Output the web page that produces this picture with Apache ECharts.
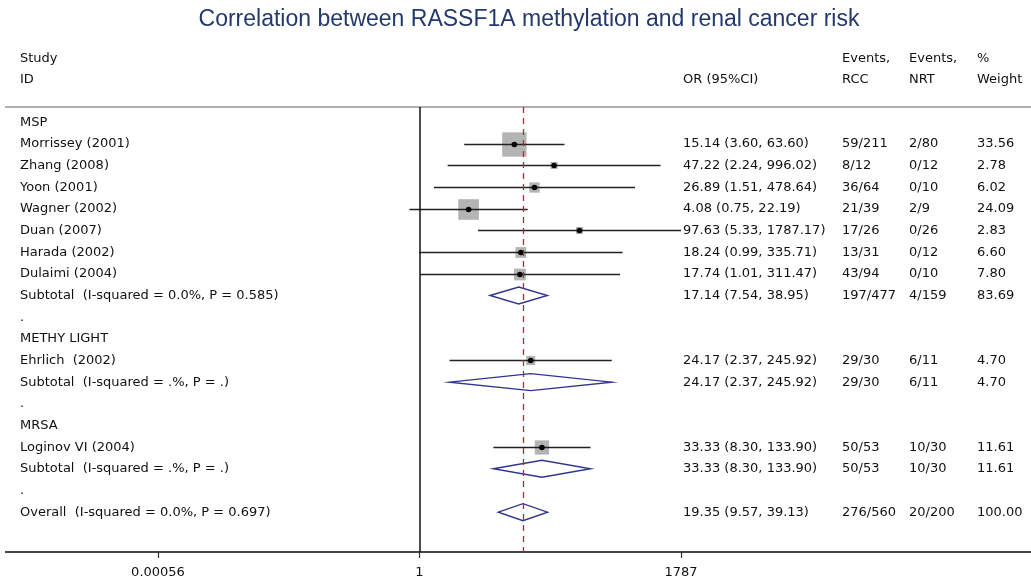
<!DOCTYPE html>
<html lang="en">
    <head>
        <meta http-equiv="Content-Type" content="text/html; charset=utf-8" />
        <title>RASSF1A forest plot</title>
        <style>
            * {
                margin: 0;
                padding: 0;
                box-sizing: border-box;
            }
            html,
            body {
                width: 100%;
                height: 100%;
                background: #fff;
            }
            #chart {
                width: 1031px;
                height: 587px;
            }
        </style>
    </head>
    <body>
        <div id="chart"></div>
        <script src="https://cdn.jsdelivr.net/npm/echarts@6/dist/echarts.min.js"></script>
        <script>
            // rows top to bottom
            const studies = [
                'MSP',
                'Morrissey (2001)',
                'Zhang (2008)',
                'Yoon (2001)',
                'Wagner (2002)',
                'Duan (2007)',
                'Harada (2002)',
                'Dulaimi (2004)',
                'Subtotal  (I-squared = 0.0%, P = 0.585)',
                '.',
                'METHY LIGHT',
                'Ehrlich  (2002)',
                'Subtotal  (I-squared = .%, P = .)',
                '.',
                'MRSA',
                'Loginov VI (2004)',
                'Subtotal  (I-squared = .%, P = .)',
                '.',
                'Overall  (I-squared = 0.0%, P = 0.697)',
            ]
            const rowKind = [
                'group', 'study', 'study', 'study', 'study', 'study', 'study', 'study', 'pooled', 'gap',
                'group', 'study', 'pooled', 'gap',
                'group', 'study', 'pooled', 'gap',
                'pooled',
            ]
            const orVals = [null, 15.14, 47.22, 26.89, 4.08, 97.63, 18.24, 17.74, 17.14, null, null, 24.17, 24.17, null, null, 33.33, 33.33, null, 19.35]
            const loVals = [null, 3.6, 2.24, 1.51, 0.75, 5.33, 0.99, 1.01, 7.54, null, null, 2.37, 2.37, null, null, 8.3, 8.3, null, 9.57]
            const hiVals = [null, 63.6, 996.02, 478.64, 22.19, 1787.17, 335.71, 311.47, 38.95, null, null, 245.92, 245.92, null, null, 133.9, 133.9, null, 39.13]
            const rccEvents = ['', '59/211', '8/12', '36/64', '21/39', '17/26', '13/31', '43/94', '197/477', '', '', '29/30', '29/30', '', '', '50/53', '50/53', '', '276/560']
            const nrtEvents = ['', '2/80', '0/12', '0/10', '2/9', '0/26', '0/12', '0/10', '4/159', '', '', '6/11', '6/11', '', '', '10/30', '10/30', '', '20/200']
            const weights = [null, 33.56, 2.78, 6.02, 24.09, 2.83, 6.6, 7.8, 83.69, null, null, 4.7, 4.7, null, null, 11.61, 11.61, null, 100.0]
            const tickVals = [0.00056, 1, 1787]
            const tickLabels = ['0.00056', '1', '1787']
            const overallOR = 19.35

            const FONT = '13px "DejaVu Sans", sans-serif'
            const TXT = '#111'
            const lg = (v) => Math.log10(v)

            const studyData = []
            const pooledData = []
            const textData = []
            studies.forEach((s, i) => {
                textData.push([0, i])
                if (rowKind[i] === 'study') {
                    studyData.push([lg(orVals[i]), lg(loVals[i]), lg(hiVals[i]), i, weights[i]])
                } else if (rowKind[i] === 'pooled') {
                    pooledData.push([lg(orVals[i]), lg(loVals[i]), lg(hiVals[i]), i])
                }
            })

            const xMin = lg(tickVals[0])
            const xMax = lg(tickVals[2])

            const chart = echarts.init(document.getElementById('chart'))
            chart.setOption({
                animation: false,
                grid: {
                    left: 158,
                    right: 350,
                    top: 107,
                    height: 445,
                },
                xAxis: {
                    type: 'value',
                    position: 'bottom',
                    min: xMin,
                    max: xMax,
                    interval: (xMax - xMin) / 2,
                    splitLine: { show: false },
                    axisLine: { show: false, onZero: false },
                    axisTick: {
                        show: true,
                        length: 6,
                        lineStyle: { color: '#333', width: 1.2 },
                    },
                    axisLabel: {
                        margin: 14,
                        color: TXT,
                        fontFamily: 'DejaVu Sans',
                        fontSize: 13,
                        formatter: (v, idx) => tickLabels[idx],
                    },
                },
                yAxis: {
                    type: 'value',
                    inverse: true,
                    min: -0.7,
                    max: 19.84,
                    show: false,
                },
                graphic: [
                    {
                        type: 'text',
                        x: 529,
                        y: 20,
                        style: {
                            text: 'Correlation between RASSF1A methylation and renal cancer risk',
                            font: '23px "Liberation Sans", Arial, sans-serif',
                            fill: '#24396b',
                            align: 'center',
                            verticalAlign: 'middle',
                        },
                    },
                    // header
                    { type: 'text', x: 20, y: 59, style: { text: 'Study', font: FONT, fill: TXT, verticalAlign: 'middle' } },
                    { type: 'text', x: 20, y: 80, style: { text: 'ID', font: FONT, fill: TXT, verticalAlign: 'middle' } },
                    { type: 'text', x: 683, y: 80, style: { text: 'OR (95%CI)', font: FONT, fill: TXT, verticalAlign: 'middle' } },
                    { type: 'text', x: 842, y: 59, style: { text: 'Events,', font: FONT, fill: TXT, verticalAlign: 'middle' } },
                    { type: 'text', x: 842, y: 80, style: { text: 'RCC', font: FONT, fill: TXT, verticalAlign: 'middle' } },
                    { type: 'text', x: 909, y: 59, style: { text: 'Events,', font: FONT, fill: TXT, verticalAlign: 'middle' } },
                    { type: 'text', x: 909, y: 80, style: { text: 'NRT', font: FONT, fill: TXT, verticalAlign: 'middle' } },
                    { type: 'text', x: 977, y: 59, style: { text: '%', font: FONT, fill: TXT, verticalAlign: 'middle' } },
                    { type: 'text', x: 977, y: 80, style: { text: 'Weight', font: FONT, fill: TXT, verticalAlign: 'middle' } },
                    // rules
                    {
                        type: 'line',
                        shape: { x1: 5, y1: 107, x2: 1031, y2: 107 },
                        style: { stroke: '#b0b0b0', lineWidth: 2 },
                    },
                    {
                        type: 'line',
                        shape: { x1: 5, y1: 552, x2: 1031, y2: 552 },
                        style: { stroke: '#444', lineWidth: 2 },
                    },
                ],
                series: [
                    {
                        type: 'custom',
                        name: 'text',
                        data: textData,
                        renderItem: (params, api) => {
                            const i = api.value(1)
                            const y = api.coord([0, i])[1]
                            const t = (x, str) => ({
                                type: 'text',
                                style: { x, y, text: str, font: FONT, fill: TXT, verticalAlign: 'middle' },
                            })
                            const kids = [t(20, studies[i])]
                            if (orVals[i] != null) {
                                kids.push(t(683, orVals[i].toFixed(2) + ' (' + loVals[i].toFixed(2) + ', ' + hiVals[i].toFixed(2) + ')'))
                                kids.push(t(842, rccEvents[i]))
                                kids.push(t(909, nrtEvents[i]))
                                kids.push(t(977, weights[i].toFixed(2)))
                            }
                            return { type: 'group', children: kids }
                        },
                    },
                    {
                        type: 'custom',
                        name: 'pooled',
                        data: pooledData,
                        z: 3,
                        renderItem: (params, api) => {
                            const row = api.value(3)
                            const c = api.coord([api.value(0), row])
                            const lo = api.coord([api.value(1), row])[0]
                            const hi = api.coord([api.value(2), row])[0]
                            const h = 8.5
                            return {
                                type: 'polygon',
                                shape: {
                                    points: [
                                        [lo, c[1]],
                                        [c[0], c[1] - h],
                                        [hi, c[1]],
                                        [c[0], c[1] + h],
                                    ],
                                },
                                style: { fill: '#fff', stroke: '#2f3590', lineWidth: 1.4 },
                            }
                        },
                    },
                    {
                        type: 'custom',
                        name: 'studies',
                        data: studyData,
                        z: 4,
                        renderItem: (params, api) => {
                            const row = api.value(3)
                            const c = api.coord([api.value(0), row])
                            const y = Math.round(c[1]) + 0.5
                            const lo = api.coord([api.value(1), row])[0]
                            const hi = api.coord([api.value(2), row])[0]
                            const s = 4.2 * Math.sqrt(api.value(4))
                            return {
                                type: 'group',
                                children: [
                                    {
                                        type: 'rect',
                                        shape: { x: c[0] - s / 2, y: y - s / 2, width: s, height: s },
                                        style: { fill: '#b4b4b4' },
                                    },
                                    {
                                        type: 'line',
                                        shape: { x1: lo, y1: y, x2: hi, y2: y },
                                        style: { stroke: '#222', lineWidth: 1.4 },
                                    },
                                    {
                                        type: 'circle',
                                        shape: { cx: c[0], cy: y, r: 2.8 },
                                        style: { fill: '#000' },
                                    },
                                ],
                            }
                        },
                        markLine: {
                            silent: true,
                            symbol: 'none',
                            label: { show: false },
                            data: [
                                { xAxis: 0, lineStyle: { color: '#111', width: 1.5, type: 'solid' } },
                                { xAxis: lg(overallOR), lineStyle: { color: '#a0303a', width: 1.3, type: [6, 5] } },
                            ],
                        },
                    },
                ],
            })
        </script>
    </body>
</html>
